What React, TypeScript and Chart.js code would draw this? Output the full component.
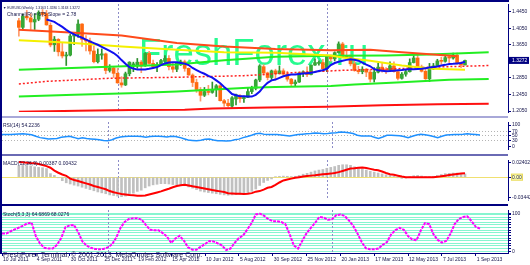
import React, { useEffect, useRef } from 'react';
import { Chart, registerables } from 'chart.js';
Chart.register(...registerables);

// ---------------- data ----------------
const dateTickIndex = [0, 8, 16, 24, 32, 40, 48, 56, 64, 72, 80, 88, 96, 104, 112];
const dateTickLabels = ['10 Jul 2011', '4 Sep 2011', '30 Oct 2011', '25 Dec 2011', '19 Feb 2012', '15 Apr 2012', '10 Jun 2012', '5 Aug 2012', '30 Sep 2012', '25 Nov 2012', '20 Jan 2013', '17 Mar 2013', '12 May 2013', '7 Jul 2013', '1 Sep 2013'];
const yearStartIndex = [25, 78];

const opens = [1.4230, 1.4070, 1.4335, 1.4300, 1.4200, 1.4266, 1.4430, 1.4404, 1.4120, 1.3650, 1.3780, 1.3480, 1.3380, 1.3400, 1.3860, 1.3900, 1.4150, 1.3780, 1.3740, 1.3500, 1.3240, 1.3400, 1.3430, 1.3030, 1.3090, 1.2960, 1.2730, 1.2680, 1.2950, 1.3150, 1.3150, 1.3230, 1.3140, 1.3440, 1.3200, 1.3120, 1.3170, 1.3250, 1.3320, 1.3120, 1.3060, 1.3210, 1.3240, 1.3080, 1.2920, 1.2740, 1.2570, 1.2430, 1.2520, 1.2500, 1.2570, 1.2660, 1.2300, 1.2240, 1.2170, 1.2340, 1.2420, 1.2350, 1.2380, 1.2520, 1.2600, 1.2800, 1.3120, 1.2970, 1.2860, 1.3020, 1.2950, 1.3020, 1.2940, 1.2820, 1.2710, 1.2750, 1.2970, 1.2990, 1.2930, 1.3160, 1.3200, 1.3220, 1.3070, 1.3370, 1.3310, 1.3460, 1.3670, 1.3370, 1.3360, 1.3190, 1.3030, 1.3000, 1.3060, 1.2990, 1.2820, 1.2990, 1.3110, 1.3040, 1.3030, 1.3140, 1.3000, 1.2840, 1.2940, 1.3000, 1.3220, 1.3330, 1.3110, 1.3010, 1.2830, 1.3070, 1.3140, 1.3260, 1.3250, 1.3340, 1.3330, 1.3400, 1.3220, 1.3163];
const highs = [1.4290, 1.4390, 1.4480, 1.4400, 1.4400, 1.4470, 1.4500, 1.4480, 1.4180, 1.3850, 1.3800, 1.3700, 1.3470, 1.3900, 1.3920, 1.4250, 1.4160, 1.3870, 1.3810, 1.3620, 1.3550, 1.3550, 1.3450, 1.3170, 1.3120, 1.3080, 1.2880, 1.2990, 1.3240, 1.3230, 1.3320, 1.3270, 1.3460, 1.3490, 1.3280, 1.3220, 1.3300, 1.3390, 1.3390, 1.3200, 1.3220, 1.3280, 1.3280, 1.3090, 1.2950, 1.2820, 1.2620, 1.2620, 1.2670, 1.2750, 1.2690, 1.2690, 1.2330, 1.2330, 1.2400, 1.2460, 1.2450, 1.2410, 1.2600, 1.2650, 1.2820, 1.3170, 1.3170, 1.2990, 1.3040, 1.3060, 1.3140, 1.3070, 1.3010, 1.2840, 1.2800, 1.2980, 1.3020, 1.3120, 1.3160, 1.3310, 1.3260, 1.3300, 1.3400, 1.3400, 1.3480, 1.3720, 1.3710, 1.3520, 1.3410, 1.3320, 1.3130, 1.3120, 1.3080, 1.3050, 1.3100, 1.3200, 1.3210, 1.3100, 1.3240, 1.3240, 1.3010, 1.2980, 1.3060, 1.3310, 1.3390, 1.3420, 1.3160, 1.3080, 1.3200, 1.3200, 1.3300, 1.3350, 1.3400, 1.3390, 1.3450, 1.3450, 1.3230, 1.3280];
const lows = [1.3860, 1.4010, 1.4250, 1.4020, 1.4020, 1.4230, 1.4330, 1.4120, 1.3600, 1.3490, 1.3380, 1.3330, 1.3150, 1.3380, 1.3650, 1.3830, 1.3610, 1.3500, 1.3420, 1.3210, 1.3210, 1.3300, 1.2950, 1.2990, 1.2860, 1.2720, 1.2625, 1.2665, 1.2900, 1.3000, 1.3080, 1.2975, 1.3130, 1.3180, 1.3090, 1.3000, 1.3150, 1.3230, 1.3040, 1.2990, 1.3000, 1.3150, 1.3010, 1.2910, 1.2640, 1.2500, 1.2290, 1.2400, 1.2440, 1.2480, 1.2400, 1.2290, 1.2160, 1.2150, 1.2140, 1.2200, 1.2260, 1.2260, 1.2370, 1.2470, 1.2560, 1.2760, 1.2920, 1.2800, 1.2810, 1.2800, 1.2950, 1.2880, 1.2770, 1.2660, 1.2660, 1.2740, 1.2880, 1.2880, 1.2920, 1.3150, 1.3160, 1.3000, 1.3000, 1.3250, 1.3260, 1.3450, 1.3340, 1.3290, 1.3140, 1.3010, 1.2950, 1.2950, 1.2880, 1.2750, 1.2750, 1.2970, 1.2990, 1.2950, 1.3030, 1.2990, 1.2800, 1.2820, 1.2890, 1.2990, 1.3210, 1.3090, 1.2990, 1.2810, 1.2760, 1.3050, 1.3130, 1.3180, 1.3230, 1.3220, 1.3300, 1.3180, 1.3100, 1.3163];
const closes = [1.4070, 1.4335, 1.4300, 1.4200, 1.4260, 1.4430, 1.4380, 1.4130, 1.3646, 1.3784, 1.3480, 1.3380, 1.3400, 1.3860, 1.3900, 1.4150, 1.3780, 1.3740, 1.3500, 1.3240, 1.3420, 1.3430, 1.3030, 1.3090, 1.2960, 1.2730, 1.2680, 1.2950, 1.3230, 1.3190, 1.3230, 1.3140, 1.3440, 1.3200, 1.3120, 1.3170, 1.3270, 1.3320, 1.3120, 1.3060, 1.3210, 1.3240, 1.3080, 1.2920, 1.2740, 1.2570, 1.2430, 1.2520, 1.2500, 1.2570, 1.2660, 1.2300, 1.2240, 1.2180, 1.2370, 1.2440, 1.2350, 1.2380, 1.2520, 1.2600, 1.2800, 1.3140, 1.2970, 1.2860, 1.3020, 1.2950, 1.3020, 1.2940, 1.2820, 1.2710, 1.2750, 1.2970, 1.2990, 1.2930, 1.3160, 1.3220, 1.3220, 1.3070, 1.3370, 1.3310, 1.3460, 1.3670, 1.3370, 1.3360, 1.3190, 1.3030, 1.3000, 1.3060, 1.2990, 1.2820, 1.2990, 1.3110, 1.3040, 1.3030, 1.3140, 1.3000, 1.2840, 1.2940, 1.3000, 1.3220, 1.3330, 1.3110, 1.3010, 1.2830, 1.3070, 1.3140, 1.3260, 1.3250, 1.3340, 1.3330, 1.3400, 1.3220, 1.3163, 1.3272];

// moving average (blue), starts at bar 7
const maStart = 7;
const maValues = [1.4259, 1.4232, 1.4204, 1.4140, 1.4080, 1.4010, 1.3950, 1.3900, 1.3860, 1.3820, 1.3775, 1.3730, 1.3690, 1.3650, 1.3600, 1.3550, 1.3500, 1.3450, 1.3380, 1.3280, 1.3190, 1.3110, 1.3075, 1.3050, 1.3050, 1.3055, 1.3070, 1.3090, 1.3110, 1.3160, 1.3200, 1.3220, 1.3225, 1.3225, 1.3210, 1.3195, 1.3160, 1.3090, 1.3040, 1.2990, 1.2950, 1.2900, 1.2855, 1.2790, 1.2720, 1.2630, 1.2550, 1.2460, 1.2430, 1.2410, 1.2405, 1.2400, 1.2400, 1.2440, 1.2520, 1.2640, 1.2730, 1.2790, 1.2810, 1.2850, 1.2890, 1.2915, 1.2930, 1.2935, 1.2945, 1.2955, 1.2965, 1.2975, 1.2995, 1.3015, 1.3035, 1.3070, 1.3160, 1.3210, 1.3240, 1.3265, 1.3285, 1.3300, 1.3290, 1.3265, 1.3220, 1.3170, 1.3130, 1.3060, 1.3033, 1.3020, 1.3010, 1.3015, 1.3025, 1.3033, 1.3040, 1.3050, 1.3056, 1.3060, 1.3065, 1.3072, 1.3085, 1.3100, 1.3111, 1.3125, 1.3148, 1.3165, 1.3185, 1.3190, 1.3200, 1.3210, 1.3240];

// channel / trend lines: [bar index, price]
const orangeLine = [[0, 1.4014], [13, 1.3945], [26, 1.3876], [40, 1.3692], [52, 1.3607], [65, 1.3547], [79, 1.3515], [89, 1.3531], [97, 1.3469], [105, 1.3416], [111, 1.3372]];
const yellowLine = [[0, 1.3761], [13, 1.3699], [26, 1.3607], [40, 1.3531], [52, 1.3469], [65, 1.3455], [79, 1.3393], [82, 1.3341], [89, 1.3263], [97, 1.3148], [105, 1.3072], [113, 1.3049]];
const greenUpper = [[0, 1.3049], [21, 1.3111], [40, 1.3175], [52, 1.3279], [65, 1.3359], [79, 1.3382], [93, 1.3393], [104, 1.3416], [119, 1.3469]];
const greenLower = [[0, 1.2399], [14, 1.2445], [28, 1.2482], [40, 1.2521], [58, 1.2613], [65, 1.2629], [79, 1.2652], [85, 1.2688], [97, 1.2743], [109, 1.2803], [119, 1.2826]];
const redDotted = [[0, 1.2704], [7, 1.2767], [15, 1.2803], [23, 1.2842], [40, 1.2865], [57, 1.2904], [70, 1.2980], [82, 1.3033], [96, 1.3072], [105, 1.3111], [119, 1.3148]];
const redBottom = [[0, 1.2032], [15, 1.2057], [28, 1.2073], [42, 1.2084], [49, 1.2114], [63, 1.2137], [78, 1.2153], [85, 1.2169], [92, 1.2192], [106, 1.2215], [119, 1.2229]];

const priceTicks = [1.2050, 1.2450, 1.2850, 1.3250, 1.3650, 1.4050, 1.4450];

const rsiValues = [56, 56, 57, 58, 59, 60, 58, 55, 48, 42, 39, 36, 37, 38, 44, 46, 48, 43, 37, 41, 38, 36, 34, 32, 29, 27, 32, 40, 45, 47, 48, 48, 48, 47, 44, 47, 48, 48, 47, 45, 48, 47, 43, 37, 31, 29, 27, 30, 34, 36, 31, 27, 27, 26, 27, 32, 35, 42, 47, 53, 60, 62, 57, 56, 56, 56, 54, 52, 50, 53, 56, 58, 60, 61, 63, 62, 60, 61, 63, 65, 68, 67, 64, 61, 53, 49, 50, 50, 44, 38, 45, 53, 53, 52, 51, 47, 42, 48, 54, 57, 55, 52, 47, 42, 48, 54, 55, 56, 57, 58, 60, 58, 56, 54];
const rsiTicks = [0, 30, 50, 70, 100];
const rsiLevels = [30, 50, 70];

const macdMain = [0.0195, 0.0198, 0.0196, 0.0190, 0.0175, 0.0165, 0.0160, 0.0145, 0.0060, 0.0030, -0.0010, -0.0060, -0.0095, -0.0115, -0.0135, -0.0150, -0.0170, -0.0190, -0.0210, -0.0230, -0.0250, -0.0265, -0.0280, -0.0300, -0.0310, -0.0320, -0.0330, -0.0320, -0.0300, -0.0270, -0.0240, -0.0220, -0.0180, -0.0150, -0.0130, -0.0120, -0.0110, -0.0110, -0.0115, -0.0125, -0.0130, -0.0135, -0.0145, -0.0165, -0.0185, -0.0210, -0.0235, -0.0250, -0.0260, -0.0270, -0.0280, -0.0290, -0.0300, -0.0305, -0.0300, -0.0295, -0.0290, -0.0285, -0.0265, -0.0240, -0.0200, -0.0140, -0.0090, -0.0055, -0.0030, 0.0005, 0.0015, 0.0018, 0.0015, 0.0010, 0.0015, 0.0030, 0.0050, 0.0065, 0.0085, 0.0105, 0.0120, 0.0130, 0.0150, 0.0165, 0.0180, 0.0200, 0.0210, 0.0210, 0.0200, 0.0175, 0.0160, 0.0140, 0.0120, 0.0100, 0.0085, 0.0070, 0.0055, 0.0040, 0.0030, 0.0015, -0.0010, -0.0020, -0.0015, 0.0005, 0.0025, 0.0030, 0.0020, 0.0005, 0.0005, 0.0015, 0.0030, 0.0045, 0.0060, 0.0065, 0.0070, 0.0070, 0.0060, 0.0055];
const macdSignal = [0.0258, 0.0252, 0.0245, 0.0238, 0.0234, 0.0222, 0.0205, 0.0187, 0.0160, 0.0110, 0.0075, 0.0045, 0.0023, -0.0025, -0.0048, -0.0065, -0.0085, -0.0105, -0.0125, -0.0150, -0.0165, -0.0185, -0.0205, -0.0235, -0.0255, -0.0270, -0.0283, -0.0292, -0.0300, -0.0306, -0.0312, -0.0315, -0.0308, -0.0292, -0.0275, -0.0258, -0.0240, -0.0218, -0.0195, -0.0170, -0.0150, -0.0138, -0.0128, -0.0140, -0.0155, -0.0165, -0.0178, -0.0192, -0.0205, -0.0218, -0.0228, -0.0240, -0.0252, -0.0272, -0.0276, -0.0280, -0.0282, -0.0283, -0.0282, -0.0270, -0.0245, -0.0235, -0.0210, -0.0180, -0.0165, -0.0130, -0.0090, -0.0055, -0.0040, -0.0025, -0.0010, 0.0000, 0.0010, 0.0018, 0.0026, 0.0032, 0.0040, 0.0048, 0.0055, 0.0060, 0.0070, 0.0085, 0.0105, 0.0125, 0.0145, 0.0150, 0.0160, 0.0163, 0.0155, 0.0140, 0.0125, 0.0117, 0.0095, 0.0070, 0.0050, 0.0040, 0.0025, 0.0010, 0.0000, -0.0003, -0.0003, 0.0000, 0.0000, 0.0000, 0.0000, 0.0000, 0.0005, 0.0015, 0.0025, 0.0035, 0.0045, 0.0055, 0.0062, 0.0068];
const macdTicks = [-0.03442, 0, 0.02402];

const stochValues = [47, 47, 53, 58, 63, 68, 74, 76, 40, 20, 9, 7, 7, 17, 35, 64, 69, 70, 51, 26, 15, 9, 6, 5, 6, 10, 18, 36, 62, 78, 86, 88, 88, 84, 70, 57, 56, 56, 48, 39, 22, 34, 41, 28, 10, 4, 4, 12, 19, 27, 26, 21, 15, 3, 7, 22, 35, 42, 58, 75, 98, 100, 94, 85, 80, 80, 78, 72, 45, 15, 7, 28, 48, 62, 75, 91, 90, 84, 85, 96, 98, 94, 82, 68, 48, 25, 8, 5, 5, 7, 17, 24, 45, 56, 62, 57, 40, 31, 29, 55, 75, 72, 45, 30, 23, 27, 46, 72, 86, 91, 93, 80, 65, 60];
const stochStripes = [0, 7, 14, 21, 28, 35, 42, 49, 56, 63, 70, 77, 84, 91, 98];
const stochTicks = [0, 100];

// ---------------- layout constants ----------------
const X_MIN = 0;
const X_MAX = 119.62;
const AXIS_W = 22;
const NAVY = '#000080';
const TXT = '#14144a';
const FONT = 'Liberation Sans';

const pts = (arr: number[][]) => arr.map(([x, y]) => ({ x, y }));
const series = (vals: number[], start = 0) => vals.map((v, k) => ({ x: k + start, y: v }));

function yAxis(min: number, max: number, ticks: number[], fmt: (v: number) => string, extra: any = {}) {
  return {
    type: 'linear',
    position: 'right',
    min,
    max,
    afterFit: (s: any) => { s.width = AXIS_W; },
    afterBuildTicks: (s: any) => { s.ticks = ticks.map((v) => ({ value: v })); },
    ticks: {
      callback: (v: any) => fmt(Number(v)),
      font: { family: FONT, size: 5 },
      color: TXT,
      padding: 1,
      autoSkip: false,
      maxRotation: 0,
    },
    border: { display: true, color: NAVY, width: 1, ...(extra.border || {}) },
    grid: {
      drawOnChartArea: false,
      drawTicks: true,
      tickLength: 3,
      tickColor: NAVY,
      ...(extra.grid || {}),
    },
  };
}

function xAxis(show: boolean) {
  const ax: any = {
    type: 'linear',
    min: X_MIN,
    max: X_MAX,
    display: show,
    afterBuildTicks: (s: any) => { s.ticks = dateTickIndex.map((v) => ({ value: v })); },
    ticks: {
      callback: (v: any) => dateTickLabels[dateTickIndex.indexOf(Number(v))] || '',
      font: { family: FONT, size: 5 },
      color: TXT,
      align: 'start',
      labelOffset: 1,
      padding: 1,
      autoSkip: false,
      maxRotation: 0,
    },
    border: { display: true, color: NAVY, width: 1 },
    grid: { drawOnChartArea: false, drawTicks: true, tickLength: 3, tickColor: NAVY },
  };
  if (show) ax.afterFit = (s: any) => { s.height = 12; };
  return ax;
}

const separatorPlugin = {
  id: 'yearSep',
  beforeDatasetsDraw(chart: any) {
    const { ctx, chartArea, scales } = chart;
    ctx.save();
    ctx.strokeStyle = '#8c8cc8';
    ctx.lineWidth = 1;
    ctx.setLineDash([2, 2]);
    yearStartIndex.forEach((i) => {
      const x = Math.round(scales.x.getPixelForValue(i)) + 0.5;
      ctx.beginPath();
      ctx.moveTo(x, chartArea.top);
      ctx.lineTo(x, chartArea.bottom);
      ctx.stroke();
    });
    ctx.restore();
  },
};

function textPlugin(items: { t: string; dx: number; dy: number; size?: number; color?: string }[]) {
  return {
    id: 'paneText',
    afterDraw(chart: any) {
      const { ctx, chartArea } = chart;
      ctx.save();
      ctx.textBaseline = 'middle';
      items.forEach((it) => {
        ctx.font = `${it.size || 5}px "${FONT}"`;
        ctx.fillStyle = it.color || TXT;
        ctx.fillText(it.t, chartArea.left + it.dx, chartArea.top + it.dy);
      });
      ctx.restore();
    },
  };
}

const watermarkPlugin = {
  id: 'watermark',
  beforeDatasetsDraw(chart: any) {
    const { ctx, chartArea } = chart;
    ctx.save();
    ctx.font = `36.5px "${FONT}"`;
    ctx.fillStyle = 'rgba(0,250,125,0.85)';
    ctx.textBaseline = 'alphabetic';
    ctx.fillText('FreshForex.ru', chartArea.left + 137, chartArea.top + 61);
    ctx.restore();
  },
};

const priceBoxPlugin = {
  id: 'priceBox',
  afterDraw(chart: any) {
    const { ctx, chartArea, scales } = chart;
    const last = closes[closes.length - 1];
    const y = scales.y.getPixelForValue(last);
    ctx.save();
    ctx.fillStyle = NAVY;
    ctx.fillRect(chartArea.right + 1, y - 3.5, 20, 7);
    ctx.fillStyle = '#ffffff';
    ctx.font = `5px "${FONT}"`;
    ctx.textBaseline = 'middle';
    ctx.fillText(last.toFixed(4), chartArea.right + 4, y + 0.3);
    ctx.restore();
  },
};

const zeroBoxPlugin = {
  id: 'zeroBox',
  beforeDraw(chart: any) {
    const { ctx, chartArea, scales } = chart;
    const y = scales.y.getPixelForValue(0);
    ctx.save();
    ctx.fillStyle = '#ffffb0';
    ctx.strokeStyle = '#e8d860';
    ctx.lineWidth = 1;
    ctx.fillRect(chartArea.right + 3, y - 3.5, 12, 7);
    ctx.strokeRect(chartArea.right + 3.5, y - 3, 11, 6);
    ctx.restore();
  },
};

function useChart(ref: React.RefObject<HTMLCanvasElement>, build: () => any) {
  useEffect(() => {
    if (!ref.current) return;
    const c = new Chart(ref.current, build());
    return () => c.destroy();
  }, []);
}

const baseOpts = (scales: any, padTop = 0, padBottom = 0) => ({
  animation: false,
  responsive: false,
  maintainAspectRatio: false,
  events: [],
  layout: { padding: { left: 2, right: 0, top: padTop, bottom: padBottom } },
  plugins: { legend: { display: false }, tooltip: { enabled: false } },
  scales,
});

export default function App() {
  const mainRef = useRef<HTMLCanvasElement>(null);
  const rsiRef = useRef<HTMLCanvasElement>(null);
  const macdRef = useRef<HTMLCanvasElement>(null);
  const stochRef = useRef<HTMLCanvasElement>(null);

  const bull = (i: number) => closes[i] >= opens[i];

  useChart(mainRef, () => ({
    type: 'bar',
    data: {
      datasets: [
        {
          type: 'bar',
          data: opens.map((_, i) => ({ x: i, y: [lows[i], highs[i]] })),
          backgroundColor: opens.map((_, i) => (bull(i) ? '#2f8f2f' : '#ff9a6a')),
          barThickness: 1,
          grouped: false,
          order: 20,
        },
        {
          type: 'bar',
          data: opens.map((_, i) => ({ x: i, y: [opens[i], closes[i]] })),
          backgroundColor: opens.map((_, i) => (bull(i) ? '#36a836' : '#ff6a10')),
          borderWidth: 0,
          barThickness: 3,
          minBarLength: 1,
          grouped: false,
          order: 19,
        },
        { type: 'line', data: pts(redBottom), borderColor: '#ff1010', borderWidth: 2, pointRadius: 0, order: 8 },
        { type: 'line', data: pts(greenLower), borderColor: '#22ee22', borderWidth: 2, pointRadius: 0, order: 7 },
        { type: 'line', data: pts(redDotted), borderColor: '#ff2020', borderWidth: 1.5, borderDash: [2, 2], pointRadius: 0, order: 6 },
        { type: 'line', data: pts(greenUpper), borderColor: '#22ee22', borderWidth: 2, pointRadius: 0, order: 5 },
        { type: 'line', data: pts(yellowLine), borderColor: '#f4f000', borderWidth: 2, pointRadius: 0, order: 4 },
        { type: 'line', data: pts(orangeLine), borderColor: '#ff4a1a', borderWidth: 2, pointRadius: 0, order: 3 },
        { type: 'line', data: series(maValues, maStart), borderColor: '#1010f0', borderWidth: 2, pointRadius: 0, order: 1 },
      ],
    },
    options: baseOpts({
      x: xAxis(false),
      y: yAxis(1.2027, 1.4634, priceTicks, (v) => v.toFixed(4)),
    }, 2, 0.5),
    plugins: [watermarkPlugin, separatorPlugin, priceBoxPlugin, textPlugin([
      { t: '\u25BC EURUSD,Weekly  1.3163 1.3280 1.3163 1.3272', dx: 1, dy: 4, size: 3.4 },
      { t: 'Channel(R) = 675 Slope = 2.78', dx: 5, dy: 11 },
    ])],
  }));

  useChart(rsiRef, () => ({
    type: 'line',
    data: {
      datasets: [
        { data: series(rsiValues), borderColor: '#1e90ff', borderWidth: 1.5, pointRadius: 0 },
      ],
    },
    options: baseOpts({
      x: xAxis(false),
      y: yAxis(-10.7, 114.3, rsiTicks, (v) => String(v), {
        border: { dash: [1, 2] },
        grid: {
          drawOnChartArea: true,
          color: (c: any) => (rsiLevels.includes(c.tick?.value) ? '#b4b4b4' : 'rgba(0,0,0,0)'),
        },
      }),
    }),
    plugins: [separatorPlugin, textPlugin([{ t: 'RSI(14) 54.2236', dx: 1, dy: 4 }])],
  }));

  useChart(macdRef, () => ({
    type: 'bar',
    data: {
      datasets: [
        { type: 'line', data: series(macdSignal), borderColor: '#ff0000', borderWidth: 2, pointRadius: 0, order: 1 },
        { type: 'bar', data: series(macdMain), backgroundColor: '#c0c0c0', barThickness: 2, grouped: false, order: 2 },
      ],
    },
    options: baseOpts({
      x: xAxis(false),
      y: yAxis(-0.03859, 0.02901, macdTicks, (v) => (v === 0 ? '0.00' : v.toFixed(5)), {
        grid: {
          drawOnChartArea: true,
          color: (c: any) => (c.tick?.value === 0 ? '#f0e070' : 'rgba(0,0,0,0)'),
        },
      }),
    }),
    plugins: [zeroBoxPlugin, separatorPlugin, textPlugin([{ t: 'MACD(12,26,9) 0.00387 0.00432', dx: 1, dy: 4 }])],
  }));

  useChart(stochRef, () => ({
    type: 'line',
    data: {
      datasets: [
        { data: series(stochValues), borderColor: '#ff00ff', borderWidth: 2, borderDash: [3, 1], pointRadius: 0 },
      ],
    },
    options: baseOpts({
      x: xAxis(true),
      y: {
        ...yAxis(-4.9, 109.8, stochTicks, (v) => String(v)),
        afterBuildTicks: (s: any) => { s.ticks = stochStripes.concat([100]).map((v) => ({ value: v })); },
        ticks: {
          callback: (v: any) => (stochTicks.includes(Number(v)) ? String(v) : ''),
          font: { family: FONT, size: 5 },
          color: TXT,
          padding: 1,
          autoSkip: false,
        },
        grid: {
          drawOnChartArea: true,
          color: '#86f5d0',
          lineWidth: 1,
          drawTicks: true,
          tickLength: 3,
          tickColor: NAVY,
        },
      },
    }),
    plugins: [separatorPlugin, textPlugin([
      { t: 'Stoch(5,3,3) 64.6869 68.0276', dx: 1, dy: 5 },
      { t: 'FreshForex Terminal, \u00A9 2001-2013, MetaQuotes Software Corp.', dx: 1, dy: 45, size: 7 },
    ])],
  }));

  const abs = (top: number, h: number): React.CSSProperties => ({ position: 'absolute', left: 0, top, width: 530, height: h });
  const line = (l: number, t: number, w: number, h: number, c: string): React.CSSProperties => ({ position: 'absolute', left: l, top: t, width: w, height: h, background: c });

  return (
    <div style={{ position: 'fixed', left: 0, top: 0, width: 530, height: 265, background: '#ffffff', overflow: 'hidden' }}>
      <canvas ref={mainRef} width={530} height={116} style={abs(0, 116)} />
      <canvas ref={rsiRef} width={530} height={35} style={abs(118, 35)} />
      <canvas ref={macdRef} width={530} height={48} style={abs(156, 48)} />
      <canvas ref={stochRef} width={530} height={59} style={abs(206, 59)} />
      <div style={line(0, 0, 509, 2, NAVY)} />
      <div style={line(0, 0, 2, 254, NAVY)} />
      <div style={line(2, 116, 506, 2, '#a8a8d8')} />
      <div style={line(2, 153.5, 506, 2, '#6a6ab4')} />
      <div style={line(2, 204, 506, 2, NAVY)} />
    </div>
  );
}
